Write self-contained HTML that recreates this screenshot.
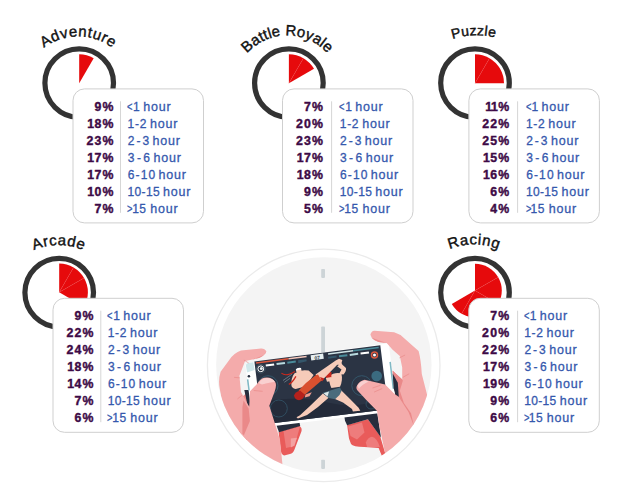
<!DOCTYPE html>
<html><head><meta charset="utf-8"><title>Game genres</title>
<style>
html,body{margin:0;padding:0;background:#fff;}
body{width:624px;height:490px;position:relative;overflow:hidden;font-family:"Liberation Sans",sans-serif;}
svg{position:absolute;left:0;top:0;}
.ttl{font-family:"Liberation Sans",sans-serif;fill:#111;stroke:#111;stroke-width:0.4px;}
.box{position:absolute;width:129.1px;height:133.7px;border:1px solid transparent;box-sizing:content-box;}
.dv{position:absolute;left:47px;top:12.2px;width:1px;height:111.5px;background:#d9d9d9;}
.r{position:absolute;left:0;height:17px;line-height:17px;font-size:12px;white-space:nowrap;width:130px;}
.p{position:absolute;right:88.7px;top:0;font-weight:bold;color:#3d0a46;letter-spacing:1.2px;font-size:12.3px;-webkit-text-stroke:0.4px #3d0a46;}
.p i{font-style:normal;margin:0 -0.8px 0 -1.3px;}
.l b{font-weight:normal;position:absolute;left:0;top:0;}
.l b i{font-style:normal;display:inline-block;transform:scaleX(0.78);transform-origin:left center;font-size:12px;letter-spacing:0;}
.l u{text-decoration:none;position:absolute;top:0;font-size:12.5px;letter-spacing:0.8px;}
.l{position:absolute;left:53.6px;top:0;color:#3558ad;letter-spacing:0;-webkit-text-stroke:0.3px #3558ad;}
.r:nth-child(1){top:9.80px}.r:nth-child(2){top:26.80px}.r:nth-child(3){top:43.80px}.r:nth-child(4){top:60.80px}.r:nth-child(5){top:77.80px}.r:nth-child(6){top:94.80px}.r:nth-child(7){top:111.80px}
</style></head><body>
<svg width="624" height="490" viewBox="0 0 624 490">
<!-- centre illustration -->
<circle cx="323.7" cy="365.35" r="116.3" fill="#ffffff" stroke="#ebebeb" stroke-width="1.3"/>
<circle cx="323.85" cy="364.85" r="107.7" fill="#f4f4f4"/>
<rect x="321.2" y="268.9" width="3.8" height="9.0" rx="0.8" fill="#cdd4d7"/>
<rect x="321.2" y="326.5" width="3.8" height="30" rx="0.8" fill="#cdd4d7"/>
<rect x="321.2" y="459.8" width="3.8" height="9.1" rx="0.8" fill="#cdd4d7"/>
<defs><clipPath id="cc"><circle cx="323.85" cy="364.85" r="107.6"/></clipPath>
<clipPath id="scr"><polygon points="254.4,361.5 380.3,345.2 388.3,409.2 262.2,424.5"/></clipPath></defs>
<g clip-path="url(#cc)">
<!-- back of hands (dark pink web) -->
<path d="M241.5,397.5 L246.5,393 L252,410 L262,440 L240,440 L236,410 Z" fill="#e98887"/>
<path d="M392.4,370.7 L402.5,379.5 L410,400 L400,425 L385,415 L392,392 Z" fill="#e98887"/>
<!-- red fingers under phone -->
<path d="M278.6,432.1 L299.3,425.7 Q302.5,428 301.4,431.5 L294.3,450 Q293,453.5 290,454 L284,455.4 Q281.5,455 281,452 Z" fill="#e95b5a"/>
<path d="M283.5,431 L300,426.5 L294.5,446 L286,448 Z" fill="#ee7c7c"/>
<path d="M290.8,438.6 L297,437.8 L294.3,445.5 L290.8,447.5 Z" fill="#f3a2a2"/>
<path d="M347.1,425 L367.9,419.3 L380,435.7 L385.5,454.3 L382.1,456.4 L378.6,447.9 L364.3,447.1 Q353,447 351,444 L349,438.6 Z" fill="#e95b5a"/>
<path d="M348,426.5 L362,422.5 L364.5,432.5 L357,439.5 L350.5,436 Z" fill="#ee7c7c"/>
<path d="M365.7,442.5 Q368,437.5 372,436.8 Q377,438 379.8,446.9 L367.1,446.9 Z" fill="#ee7c7c"/>
<!-- dark underside -->
<path d="M276.2,424.5 L299.3,421.6 L300.2,425.9 L279,432.3 Z" fill="#262d3d"/>
<path d="M344.3,416.1 L377.1,412.2 L381,437.5 L367.9,419.3 L347.1,425.2 L345,420.7 Z" fill="#262d3d"/>
<path d="M244.3,390 L250,390 L251,408 L247.5,405 Z" fill="#262d3d"/>
<path d="M394,379 L399,384 L398,396 L394.5,394 Z" fill="#262d3d"/>
<!-- phone body -->
<path d="M247.5,363 L386.5,343.6 Q388.6,343.4 389,345.5 L396.8,409 Q397,411 395,411.3 L256,428.3 Q253.5,428.5 253.2,426.3 L245.5,366 Q245.3,363.4 247.5,363 Z" fill="#ffffff"/>
<path d="M246,366 Q245.6,363.3 248.5,362.9 L253.3,362.2 L254.6,370 L247,372.5 Z" fill="#cfe7ea"/>
<path d="M246.9,379.5 L248.4,379.3 L249.8,390.3 L248.3,390.5 Z" fill="#7fb8c4"/>
<path d="M389.4,361.9 L390.9,361.7 L394,388.5 L392.6,388.7 Z" fill="#7fb8c4"/>
<circle cx="248.9" cy="376.3" r="1.3" fill="#262d3d"/>
<!-- screen -->
<polygon points="254.4,361.5 380.3,345.2 388.3,409.2 262.2,424.5" fill="#2b3444"/>
<g clip-path="url(#scr)">
<path d="M258,402 Q300,395 330,403 Q360,410 390,396 L392,412 L262,428 Z" fill="#242b3a"/>
<circle cx="268" cy="385.7" r="10" fill="none" stroke="#34566a" stroke-width="1"/>
<circle cx="278.8" cy="408.5" r="8.5" fill="none" stroke="#34566a" stroke-width="0.8"/>
<circle cx="361.8" cy="385.7" r="10" fill="none" stroke="#34566a" stroke-width="1"/>
<circle cx="376.7" cy="376" r="5.3" fill="#3b6b80"/>
<circle cx="371" cy="404" r="5" fill="none" stroke="#34566a" stroke-width="0.8"/>
<!-- HUD -->
<path d="M256,362.2 L288.5,358 L288.7,359.5 L256.2,363.7 Z" fill="#dc573d"/>
<path d="M288.5,358 L306.5,355.7 L306.7,357.2 L288.7,359.5 Z" fill="#f3c6ba"/>
<path d="M310.6,355.2 L323.1,353.6 L323.8,358.8 L311.3,360.4 Z" fill="#e6eef0"/>
<path d="M328,353.2 L353,350 L353.2,351.5 L328.2,354.7 Z" fill="#cfe3e6"/>
<path d="M353,350 L378.6,346.7 L378.8,348.2 L353.2,351.5 Z" fill="#4a8b9a"/>
<path d="M265.6,364.5 L274,363.4 L274.3,365.4 L265.9,366.5 Z" fill="#ffffff"/>
<path d="M276.4,363.1 L284.8,362 L285.1,364 L276.7,365.1 Z" fill="#b9dadf"/>
<path d="M287.2,361.7 L295.6,360.6 L295.9,362.6 L287.5,363.7 Z" fill="#4a8b9a"/>
<path d="M298,360.3 L306.4,359.2 L306.7,361.2 L298.3,363.2 Z" fill="#34566a"/>
<path d="M328,356.7 L336.4,355.6 L336.7,357.6 L328.3,358.7 Z" fill="#34566a"/>
<path d="M338.8,355.3 L347.2,354.2 L347.5,356.2 L339.1,357.3 Z" fill="#4a8b9a"/>
<path d="M349.6,353.9 L358,352.8 L358.3,354.8 L349.9,355.9 Z" fill="#b9dadf"/>
<path d="M360.4,352.5 L368.8,351.4 L369.1,353.4 L360.7,354.4 Z" fill="#ffffff"/>
<circle cx="260.8" cy="368.8" r="2.9" fill="#2b3444" stroke="#ffffff" stroke-width="1"/><circle cx="261.3" cy="368.5" r="1.5" fill="#e8f0f1"/>
<circle cx="260.8" cy="368.8" r="4.3" fill="none" stroke="#56707c" stroke-width="0.6"/>
<circle cx="374.5" cy="354.9" r="3.0" fill="#2b3444" stroke="#dc573d" stroke-width="1.5"/><circle cx="374.5" cy="354.9" r="1.5" fill="#ffffff"/>
<!-- fighters -->
<!-- right fighter legs -->
<path d="M322.9,393.4 L328.6,397.7 L318,407 L307.1,414.9 L297.9,418.6 L296.5,417.3 L300,415.3 L310,406 Z" fill="#f6cbb9"/>
<path d="M336.4,390.6 L341.4,390.6 L350,399 L358.6,407.7 L360.3,410.8 L352.9,411.5 L352,409 L343,402.5 L335,399.1 Z" fill="#f6cbb9"/>
<path d="M322.9,392.7 L340,387.5 L341.6,390.8 L339.5,395 L335,399.3 L328.6,397.9 Z" fill="#4a6b7c"/>
<path d="M323.5,393.3 L329,391.6 L327.5,396.5 Z" fill="#dfe9ea"/>
<!-- right fighter torso/arms -->
<path d="M329.3,376.3 Q334,372 341.4,373.4 Q343,380 340,386.8 L331.4,388 Q328.5,382 329.3,376.3 Z" fill="#f6cbb9"/>
<path d="M337.1,366.3 L341,363.5 L346,368 Q346.5,371 343.5,374.5 L339,374 L341.5,369.5 Z" fill="#f6cbb9"/>
<path d="M336.3,361.5 L339.2,359.8 L342.3,364.5 L339.5,366.3 Z" fill="#f6cbb9"/>
<path d="M324.5,373.5 Q328,371 331.5,372.2 L331.3,377.5 L327.5,379 Q324.8,377 324.5,373.5 Z" fill="#c8281e"/>
<path d="M325.8,378 L331.5,377 L332,381 L327,381.8 Z" fill="#f6cbb9"/>
<!-- left fighter -->
<path d="M294.3,373.4 Q301,369 308.6,370.6 L313.6,374.9 L305.7,386.3 L295.7,389.1 Q291.5,388 291.4,384.9 Q291,378 294.3,373.4 Z" fill="#f6cbb9"/>
<circle cx="298.8" cy="370.6" r="2.7" fill="#f6cbb9"/>
<path d="M295.8,369.3 Q298,367.2 301,368 L301.3,369.3 L296.2,370.6 Z" fill="#ffffff"/>
<path d="M281.4,373.2 Q286,377 294.8,371.5" fill="none" stroke="#c8281e" stroke-width="1.1"/>
<path d="M288.8,384.4 Q292,383 295.9,376.3" fill="none" stroke="#c8281e" stroke-width="1.3"/>
<path d="M283,380.5 L292,374.2 M284.3,382.3 L290,378.3" fill="none" stroke="#9fb3bd" stroke-width="0.5"/>
<path d="M315.5,374.6 L335.7,360.4 L339,358.8 L342.3,360 L341.4,363.4 L337,365 L321.6,380.8 Z" fill="#f6cbb9"/>
<path d="M298.6,390.6 Q306,382 315.7,375.2 L318,374.5 L321.6,380.6 L304.6,395 Z" fill="#d9502f"/>
<path d="M294,395.5 Q295,392 300,390.4 L305.2,394.9 Q303,399.5 299,400.3 Q294.5,399.5 294,395.5 Z" fill="#b5211c"/>
<path d="M305.5,394.5 L311.8,392.2 L309.5,396.2 L304.8,397.6 Z" fill="#f09a8c"/>
<path d="M320,377 L324.5,378.5 L322,381.5 Z" fill="#c8281e"/>
</g>
<text x="317.2" y="359.6" font-family="Liberation Sans, sans-serif" font-weight="bold" font-size="5" fill="#2b3444" text-anchor="middle" transform="rotate(-7.4 317.2 357.5)">07</text>
<!-- left hand -->
<path d="M266.3,351.3 Q265,348.3 261,348.4 L241,350.5 Q234,353 229.6,359.5 L220.6,371.7 Q218,380 219.8,388.9 L224.7,415 L243.7,450 L283,470 L280,440 L274.3,421.4 L269.3,405.7 L274.5,392.1 Q277,385 275.3,382.3 Q271,376 263.9,377.8 Q260,379 257,384 L250,391.3 L249.2,406.8 L241,392.1 L239.4,375.8 L245.1,361.1 L252.4,359.5 L259,357.9 Q265,356 266.3,351.3 Z" fill="#f4abab"/>
<path d="M243.6,400.6 L248.7,408.8 L249.9,421 L243.8,435.5 L242.4,433.3 L242.4,406.7 Z" fill="#ea8989"/>
<path d="M258.7,383 Q262,378 267,378 Q273,378 275,382 Q270,382 262,384.5 Z" fill="#f9d0d0"/>
<path d="M259,357.9 Q264,356 266,352.5 L266.3,351.3 L264,355 L252.4,359.5 Z" fill="#ec9090"/>
<!-- right hand -->
<path d="M370.4,334.8 Q371,331 374.5,330.7 L394.1,332.3 Q400,334 403.9,338.1 L418.6,351.1 Q421,360 421.8,374 L427.6,396.8 L440,420 L400,470 L385.7,456 L379.3,425.7 L377.1,411.1 L371.2,405 L366.3,400.1 L357.3,390.3 Q355.5,388 357.3,385 Q360,380.5 364.7,379.7 L385.1,384.6 L397.3,396.8 L402.2,378.9 L402.2,367.4 L399.8,356 L392.4,349.5 L386.7,343 L378.6,342.1 Q372,340 370.4,334.8 Z" fill="#f4abab"/>
<path d="M392.7,370.4 L402.9,380.6 L399.8,390.8 L403.9,403.1 L411,413.3 L414.1,426.5 L408.5,412 L398.8,396.9 L395.7,382.7 Z" fill="#ea8989"/>
<path d="M392.7,373.5 L397.8,382.7 L398.8,396.9 L395.7,393.9 L393.7,388.8 Z" fill="#262d3d"/>
<path d="M357.5,386 Q359,381.5 364.7,380.5 L369,381.5 Q362,384 359,389 Z" fill="#f9d0d0"/>
<path d="M371.2,337.5 Q374,340.5 378.6,342.1 L386.7,343 L378,340 Z" fill="#ec9090"/>
<path d="M244.3,360.3 L248.4,362.8 M234.5,377.4 L239.4,377.8 M237.8,398.7 L241.8,395.4 M254.1,390.5 L262.2,391.3 M399.8,357.7 L404.7,355.2 M403.1,377.2 L408.8,374 M372.9,387.9 L380.2,385.4 M374.5,391.9 L381.8,388.7" fill="none" stroke="#e88483" stroke-width="0.6" stroke-linecap="round"/>
</g>

<circle cx="79.2" cy="83.1" r="34.3" fill="none" stroke="#333333" stroke-width="5.2"/>
<path d="M79.20,83.30 L79.20,54.30 A29,29 0 0 1 93.70,58.19 Z" fill="#e60a0c"/>
<path id="pAd" d="M21.20,93.50 A57.0,57.0 0 0 1 135.20,93.50" fill="none"/>
<text class="ttl" font-size="15" letter-spacing="0.6"><textPath href="#pAd" startOffset="89.54" text-anchor="middle">Adventure</textPath></text>
<circle cx="288.9" cy="83.1" r="34.3" fill="none" stroke="#333333" stroke-width="5.2"/>
<path d="M288.90,83.30 L288.90,54.30 A29,29 0 0 1 303.40,58.19 Z" fill="#e60a0c"/>
<path d="M288.90,83.30 L303.40,58.19 A29,29 0 0 1 314.01,68.80 Z" fill="#e60a0c"/>
<line x1="288.90" y1="83.30" x2="303.40" y2="58.19" stroke="#ec4244" stroke-width="0.3"/>
<path id="pBa" d="M233.10,89.50 A54.0,54.0 0 0 1 341.10,89.50" fill="none"/>
<text class="ttl" font-size="15" letter-spacing="0.1"><textPath href="#pBa" startOffset="84.82" text-anchor="middle">Battle Royale</textPath></text>
<circle cx="475.0" cy="83.1" r="34.3" fill="none" stroke="#333333" stroke-width="5.2"/>
<path d="M475.00,83.30 L475.00,54.30 A29,29 0 0 1 489.50,58.19 Z" fill="#e60a0c"/>
<path d="M475.00,83.30 L489.50,58.19 A29,29 0 0 1 504.00,83.30 Z" fill="#e60a0c"/>
<line x1="475.00" y1="83.30" x2="489.50" y2="58.19" stroke="#ec4244" stroke-width="0.3"/>
<path id="pPu" d="M396.60,115.30 A80,80 0 0 1 556.60,115.30" fill="none"/>
<text class="ttl" font-size="14" letter-spacing="0.25"><textPath href="#pPu" startOffset="122.66" text-anchor="middle">Puzzle</textPath></text>
<circle cx="59.2" cy="292.6" r="34.3" fill="none" stroke="#333333" stroke-width="5.2"/>
<path d="M59.20,292.30 L59.20,263.60 A28.7,28.7 0 0 1 73.55,267.45 Z" fill="#e60a0c"/>
<path d="M59.20,292.30 L73.55,267.45 A28.7,28.7 0 0 1 84.05,277.95 Z" fill="#e60a0c"/>
<path d="M59.20,292.30 L84.05,277.95 A28.7,28.7 0 0 1 84.05,306.65 Z" fill="#e60a0c"/>
<line x1="59.20" y1="292.30" x2="73.55" y2="267.45" stroke="#ec4244" stroke-width="0.3"/>
<line x1="59.20" y1="292.30" x2="84.05" y2="277.95" stroke="#ec4244" stroke-width="0.3"/>
<path id="pAr" d="M-3.40,307.10 A62,62 0 0 1 120.60,307.10" fill="none"/>
<text class="ttl" font-size="15" letter-spacing="0.6"><textPath href="#pAr" startOffset="97.39" text-anchor="middle">Arcade</textPath></text>
<circle cx="475.0" cy="292.6" r="34.3" fill="none" stroke="#333333" stroke-width="5.2"/>
<path d="M475.00,290.60 L475.00,263.80 A26.8,26.8 0 0 1 498.21,277.20 Z" fill="#e60a0c"/>
<path d="M475.00,290.60 L498.21,277.20 A26.8,26.8 0 0 1 498.21,304.00 Z" fill="#e60a0c"/>
<path d="M475.00,290.60 L498.21,304.00 A26.8,26.8 0 0 1 461.60,313.81 Z" fill="#e60a0c"/>
<path d="M475.00,290.60 L461.60,313.81 A26.8,26.8 0 0 1 451.79,304.00 Z" fill="#e60a0c"/>
<line x1="475.00" y1="290.60" x2="498.21" y2="277.20" stroke="#ec4244" stroke-width="0.3"/>
<line x1="475.00" y1="290.60" x2="498.21" y2="304.00" stroke="#ec4244" stroke-width="0.3"/>
<line x1="475.00" y1="290.60" x2="461.60" y2="313.81" stroke="#ec4244" stroke-width="0.3"/>
<path id="pRa" d="M410.00,308.50 A64,64 0 0 1 538.00,308.50" fill="none"/>
<text class="ttl" font-size="15" letter-spacing="0.6"><textPath href="#pRa" startOffset="100.53" text-anchor="middle">Racing</textPath></text>
<rect x="73.0" y="88.9" width="130.5" height="134" rx="11.5" fill="#ffffff" stroke="#cfcfcf" stroke-width="1"/><line x1="120.5" y1="101.3" x2="120.5" y2="212.8" stroke="#d6d6d6" stroke-width="1"/>
<rect x="282.5" y="88.9" width="130.5" height="134" rx="11.5" fill="#ffffff" stroke="#cfcfcf" stroke-width="1"/><line x1="331.6" y1="101.3" x2="331.6" y2="212.8" stroke="#d6d6d6" stroke-width="1"/>
<rect x="468.9" y="88.9" width="130.5" height="134" rx="11.5" fill="#ffffff" stroke="#cfcfcf" stroke-width="1"/><line x1="517.6" y1="101.3" x2="517.6" y2="212.8" stroke="#d6d6d6" stroke-width="1"/>
<rect x="53.0" y="298.3" width="130.5" height="134" rx="11.5" fill="#ffffff" stroke="#cfcfcf" stroke-width="1"/><line x1="100.8" y1="310.7" x2="100.8" y2="422.2" stroke="#d6d6d6" stroke-width="1"/>
<rect x="468.8" y="298.3" width="130.5" height="134" rx="11.5" fill="#ffffff" stroke="#cfcfcf" stroke-width="1"/><line x1="517.6" y1="310.7" x2="517.6" y2="422.2" stroke="#d6d6d6" stroke-width="1"/>
</svg>
<div class="box" style="left:72.3px;top:88.3px"><div class="r"><span class="p">9%</span><span class="l" style="left:54.5px"><b style="left:-0.6px"><i style="margin-right:-1.2px">&lt;</i>1</b><u style="left:15.37px">hour</u></span></div><div class="r"><span class="p"><i>1</i>8%</span><span class="l" style="left:54.5px"><b style="left:-0.2px;letter-spacing:0.7px">1-2</b><u style="left:22.17px">hour</u></span></div><div class="r"><span class="p">23%</span><span class="l" style="left:54.5px"><b style="letter-spacing:2.0px">2-3</b><u style="left:24.77px">hour</u></span></div><div class="r"><span class="p"><i>1</i>7%</span><span class="l" style="left:54.5px"><b style="letter-spacing:2.45px">3-6</b><u style="left:25.67px">hour</u></span></div><div class="r"><span class="p"><i>1</i>7%</span><span class="l" style="left:54.5px"><b style="letter-spacing:1.13px">6-10</b><u style="left:30.77px">hour</u></span></div><div class="r"><span class="p"><i>1</i>0%</span><span class="l" style="left:54.5px"><b style="left:-0.2px;letter-spacing:0.33px">10-15</b><u style="left:35.27px">hour</u></span></div><div class="r"><span class="p">7%</span><span class="l" style="left:54.5px"><b style="left:-0.6px;letter-spacing:0.5px"><i style="margin-right:-2.1px">&gt;</i>15</b><u style="left:22.47px">hour</u></span></div></div>
<div class="box" style="left:281.8px;top:88.3px"><div class="r"><span class="p">7%</span><span class="l" style="left:57.2px"><b style="left:-0.6px"><i style="margin-right:-1.2px">&lt;</i>1</b><u style="left:15.37px">hour</u></span></div><div class="r"><span class="p">20%</span><span class="l" style="left:57.2px"><b style="left:-0.2px;letter-spacing:0.7px">1-2</b><u style="left:22.17px">hour</u></span></div><div class="r"><span class="p">23%</span><span class="l" style="left:57.2px"><b style="letter-spacing:2.0px">2-3</b><u style="left:24.77px">hour</u></span></div><div class="r"><span class="p"><i>1</i>7%</span><span class="l" style="left:57.2px"><b style="letter-spacing:2.45px">3-6</b><u style="left:25.67px">hour</u></span></div><div class="r"><span class="p"><i>1</i>8%</span><span class="l" style="left:57.2px"><b style="letter-spacing:1.13px">6-10</b><u style="left:30.77px">hour</u></span></div><div class="r"><span class="p">9%</span><span class="l" style="left:57.2px"><b style="left:-0.2px;letter-spacing:0.33px">10-15</b><u style="left:35.27px">hour</u></span></div><div class="r"><span class="p">5%</span><span class="l" style="left:57.2px"><b style="left:-0.6px;letter-spacing:0.5px"><i style="margin-right:-2.1px">&gt;</i>15</b><u style="left:22.47px">hour</u></span></div></div>
<div class="box" style="left:468.2px;top:88.3px"><div class="r"><span class="p"><i>1</i><i>1</i>%</span><span class="l" style="left:57.0px"><b style="left:-0.6px"><i style="margin-right:-1.2px">&lt;</i>1</b><u style="left:15.37px">hour</u></span></div><div class="r"><span class="p">22%</span><span class="l" style="left:57.0px"><b style="left:-0.2px;letter-spacing:0.7px">1-2</b><u style="left:22.17px">hour</u></span></div><div class="r"><span class="p">25%</span><span class="l" style="left:57.0px"><b style="letter-spacing:2.0px">2-3</b><u style="left:24.77px">hour</u></span></div><div class="r"><span class="p"><i>1</i>5%</span><span class="l" style="left:57.0px"><b style="letter-spacing:2.45px">3-6</b><u style="left:25.67px">hour</u></span></div><div class="r"><span class="p"><i>1</i>6%</span><span class="l" style="left:57.0px"><b style="letter-spacing:1.13px">6-10</b><u style="left:30.77px">hour</u></span></div><div class="r"><span class="p">6%</span><span class="l" style="left:57.0px"><b style="left:-0.2px;letter-spacing:0.33px">10-15</b><u style="left:35.27px">hour</u></span></div><div class="r"><span class="p">4%</span><span class="l" style="left:57.0px"><b style="left:-0.6px;letter-spacing:0.5px"><i style="margin-right:-2.1px">&gt;</i>15</b><u style="left:22.47px">hour</u></span></div></div>
<div class="box" style="left:52.3px;top:296.8px"><div class="r"><span class="p">9%</span><span class="l" style="left:54.6px"><b style="left:-0.6px"><i style="margin-right:-1.2px">&lt;</i>1</b><u style="left:15.37px">hour</u></span></div><div class="r"><span class="p">22%</span><span class="l" style="left:54.6px"><b style="left:-0.2px;letter-spacing:0.7px">1-2</b><u style="left:22.17px">hour</u></span></div><div class="r"><span class="p">24%</span><span class="l" style="left:54.6px"><b style="letter-spacing:2.0px">2-3</b><u style="left:24.77px">hour</u></span></div><div class="r"><span class="p"><i>1</i>8%</span><span class="l" style="left:54.6px"><b style="letter-spacing:2.45px">3-6</b><u style="left:25.67px">hour</u></span></div><div class="r"><span class="p"><i>1</i>4%</span><span class="l" style="left:54.6px"><b style="letter-spacing:1.13px">6-10</b><u style="left:30.77px">hour</u></span></div><div class="r"><span class="p">7%</span><span class="l" style="left:54.6px"><b style="left:-0.2px;letter-spacing:0.33px">10-15</b><u style="left:35.27px">hour</u></span></div><div class="r"><span class="p">6%</span><span class="l" style="left:54.6px"><b style="left:-0.6px;letter-spacing:0.5px"><i style="margin-right:-2.1px">&gt;</i>15</b><u style="left:22.47px">hour</u></span></div></div>
<div class="box" style="left:468.0px;top:296.8px"><div class="r"><span class="p">7%</span><span class="l" style="left:55.4px"><b style="left:-0.6px"><i style="margin-right:-1.2px">&lt;</i>1</b><u style="left:15.37px">hour</u></span></div><div class="r"><span class="p">20%</span><span class="l" style="left:55.4px"><b style="left:-0.2px;letter-spacing:0.7px">1-2</b><u style="left:22.17px">hour</u></span></div><div class="r"><span class="p">22%</span><span class="l" style="left:55.4px"><b style="letter-spacing:2.0px">2-3</b><u style="left:24.77px">hour</u></span></div><div class="r"><span class="p"><i>1</i>7%</span><span class="l" style="left:55.4px"><b style="letter-spacing:2.45px">3-6</b><u style="left:25.67px">hour</u></span></div><div class="r"><span class="p"><i>1</i>9%</span><span class="l" style="left:55.4px"><b style="letter-spacing:1.13px">6-10</b><u style="left:30.77px">hour</u></span></div><div class="r"><span class="p">9%</span><span class="l" style="left:55.4px"><b style="left:-0.2px;letter-spacing:0.33px">10-15</b><u style="left:35.27px">hour</u></span></div><div class="r"><span class="p">6%</span><span class="l" style="left:55.4px"><b style="left:-0.6px;letter-spacing:0.5px"><i style="margin-right:-2.1px">&gt;</i>15</b><u style="left:22.47px">hour</u></span></div></div>
</body></html>
